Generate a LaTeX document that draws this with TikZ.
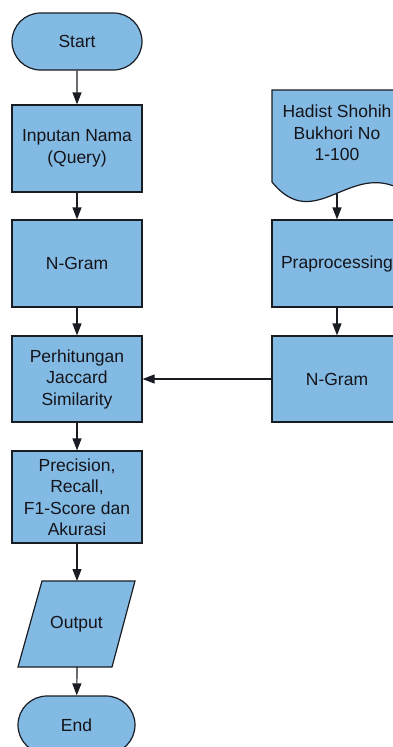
\documentclass[tikz,border=0pt]{standalone}
\usepackage{fontspec}
\setmainfont{Liberation Sans}
\usetikzlibrary{arrows.meta,shapes.misc}
\definecolor{boxfill}{RGB}{131,186,228}
\definecolor{boxline}{RGB}{25,28,35}
\definecolor{txt}{RGB}{20,20,25}
\begin{document}
\begin{tikzpicture}[x=1pt,y=-1pt,
  base/.style={draw=boxline, line width=1.2pt, fill=boxfill, text=txt,
    font=\fontsize{17.5}{21.5}\selectfont, align=center, inner sep=0pt},
  proc/.style={base, rectangle, minimum width=130pt, minimum height=87pt},
  term/.style={base, rounded rectangle, minimum height=57pt},
  shapeline/.style={draw=boxline, line width=1.2pt, fill=boxfill},
  label/.style={text=txt, font=\fontsize{17.5}{21.5}\selectfont, align=center, inner sep=0pt},
  arr/.style={draw=boxline, line width=1.2pt, -{Triangle[length=12pt,width=9pt]}}]
\useasboundingbox (0,0) rectangle (393,747);
% left column
\node[term, minimum width=130pt] (start) at (77,41.5) {Start};
\node[proc] (input) at (77,148.5) {Inputan Nama\\(Query)};
\node[proc] (ngram1) at (77,263.5) {N-Gram};
\node[proc, minimum height=86pt] (jac) at (77,379) {Perhitungan\\Jaccard\\Similarity};
\node[proc, minimum height=92pt] (prec) at (77,497) {Precision,\\Recall,\\F1-Score dan\\Akurasi};
\draw[shapeline] (42,581) -- (135,581) -- (112,667) -- (18,667) -- cycle;
\node[label] (out) at (76.5,624) {Output};
\coordinate (outN) at (77,581);
\coordinate (outS) at (77,667);
\node[term, minimum width=117pt, minimum height=58pt] (end) at (76.5,725) {End};
% right column
\draw[shapeline] (272,90) -- (402,90) -- (402,190) .. controls (350,160) and (315,235) .. (272,182) -- cycle;
\node[label] (doc) at (337,133) {Hadist Shohih\\Bukhori No\\1-100};
\coordinate (docS) at (337,194);
\node[proc] (prep) at (337,263.5) {Praprocessing};
\node[proc, minimum height=86pt] (ngram2) at (337,379) {N-Gram};
% connectors
\draw[arr] (start) -- (input);
\draw[arr] (input) -- (ngram1);
\draw[arr] (ngram1) -- (jac);
\draw[arr] (jac) -- (prec);
\draw[arr] (prec) -- (outN);
\draw[arr] (outS) -- (end);
\draw[arr] (docS) -- (prep);
\draw[arr] (prep) -- (ngram2);
\draw[arr] (ngram2) -- (jac);
\end{tikzpicture}
\end{document}
